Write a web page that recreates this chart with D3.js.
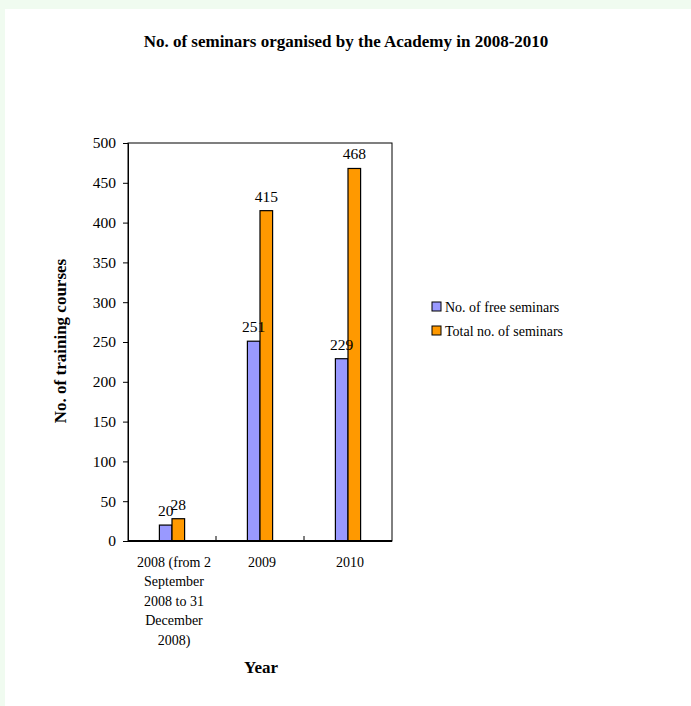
<!DOCTYPE html>
<html>
<head>
<meta charset="utf-8">
<script src="https://d3js.org/d3.v7.min.js"></script>
<style>
  body { margin: 0; background: #f0fbf0; }
  svg { display: block; }
  svg text { font-family: "Liberation Serif", "Times New Roman", serif; }
</style>
</head>
<body>
<svg id="chart" width="691" height="706"></svg>
<script>
// data
const categories = [
  ['2008 (from 2', 'September', '2008 to 31', 'December', '2008)'],
  ['2009'],
  ['2010']
];
const seriesNames = ['No. of free seminars', 'Total no. of seminars'];
const freeSeminars = [20, 251, 229];
const totalSeminars = [28, 415, 468];
const yTicks = [0, 50, 100, 150, 200, 250, 300, 350, 400, 450, 500];
const colours = ['#9999ff', '#ff9900'];

const svg = d3.select('svg#chart');

// white sheet over the light green page
svg.append('rect')
  .attr('x', 0).attr('y', 0).attr('width', 691).attr('height', 706)
  .attr('fill', '#f0fbf0');
svg.append('rect')
  .attr('x', 5).attr('y', 9).attr('width', 686).attr('height', 697)
  .attr('fill', '#ffffff');

const plot = { left: 128, top: 143, right: 392, bottom: 541 };

const x = d3.scaleBand()
  .domain(d3.range(categories.length))
  .range([plot.left, plot.right]);

const y = d3.scaleLinear()
  .domain([0, 500])
  .range([plot.bottom, plot.top]);

const barW = 12.6;

// title
svg.append('text')
  .attr('x', 346).attr('y', 47)
  .attr('text-anchor', 'middle')
  .attr('font-size', 17).attr('font-weight', 'bold')
  .text('No. of seminars organised by the Academy in 2008-2010');

// plot frame
svg.append('rect')
  .attr('x', plot.left).attr('y', plot.top)
  .attr('width', plot.right - plot.left).attr('height', plot.bottom - plot.top)
  .attr('fill', '#fff').attr('stroke', '#000').attr('stroke-width', 1);

// y axis
const yAxis = svg.append('g')
  .attr('transform', 'translate(' + plot.left + ',0)')
  .call(d3.axisLeft(y).tickValues(yTicks).tickSize(5).tickPadding(7));
yAxis.attr('font-family', null);
yAxis.select('.domain').attr('stroke', '#000');
yAxis.selectAll('text').attr('font-size', 15.5).attr('fill', '#000');

// x axis
const xAxis = svg.append('g')
  .attr('transform', 'translate(0,' + plot.bottom + ')');
xAxis.selectAll('line.tick')
  .data(d3.range(1, categories.length))
  .enter().append('line').classed('tick', true)
  .attr('x1', d => x(d)).attr('x2', d => x(d))
  .attr('y1', 0).attr('y2', -5)
  .attr('stroke', '#000');

const xLabels = svg.selectAll('text.xlabel')
  .data(categories)
  .enter().append('text').classed('xlabel', true)
  .attr('text-anchor', 'middle')
  .attr('font-size', 14)
  .attr('transform', (d, i) => 'translate(' + (x(i) + x.bandwidth() / 2 + 2) + ',567)');
xLabels.selectAll('tspan')
  .data(d => d)
  .enter().append('tspan')
  .attr('x', 0)
  .attr('dy', (d, i) => i === 0 ? 0 : 19.4)
  .text(d => d);

// axis titles
svg.append('text')
  .attr('x', 261).attr('y', 673)
  .attr('text-anchor', 'middle')
  .attr('font-size', 17).attr('font-weight', 'bold')
  .text('Year');

svg.append('text')
  .attr('transform', 'translate(66,341) rotate(-90)')
  .attr('text-anchor', 'middle')
  .attr('font-size', 17).attr('font-weight', 'bold')
  .text('No. of training courses');

// bars first, value labels after so they sit on top
const series = [freeSeminars, totalSeminars];
const bx = (s, i) => x(i) + x.bandwidth() / 2 + (s - 1) * barW;
series.forEach((values, s) => {
  svg.append('g').selectAll('rect')
    .data(values)
    .enter().append('rect')
    .attr('x', (d, i) => bx(s, i))
    .attr('y', d => y(d))
    .attr('width', barW)
    .attr('height', d => y(0) - y(d))
    .attr('fill', colours[s])
    .attr('stroke', '#000')
    .attr('stroke-width', 1.2);
});
series.forEach((values, s) => {
  svg.append('g').selectAll('text')
    .data(values)
    .enter().append('text')
    .attr('x', (d, i) => bx(s, i) + barW / 2)
    .attr('y', d => y(d) - 9)
    .attr('text-anchor', 'middle')
    .attr('font-size', 15.5)
    .text(d => d);
});

// axis line over the bars
svg.append('line')
  .attr('x1', plot.left).attr('x2', plot.right)
  .attr('y1', plot.bottom).attr('y2', plot.bottom)
  .attr('stroke', '#000').attr('stroke-width', 2);

// legend
const legend = svg.append('g').attr('transform', 'translate(432,302)');
const items = legend.selectAll('g')
  .data(seriesNames)
  .enter().append('g')
  .attr('transform', (d, i) => 'translate(0,' + (i * 24) + ')');
items.append('rect')
  .attr('width', 9).attr('height', 9)
  .attr('fill', (d, i) => colours[i])
  .attr('stroke', '#000').attr('stroke-width', 1);
items.append('text')
  .attr('x', 13).attr('y', 10)
  .attr('font-size', 14)
  .text(d => d);
</script>
</body>
</html>
